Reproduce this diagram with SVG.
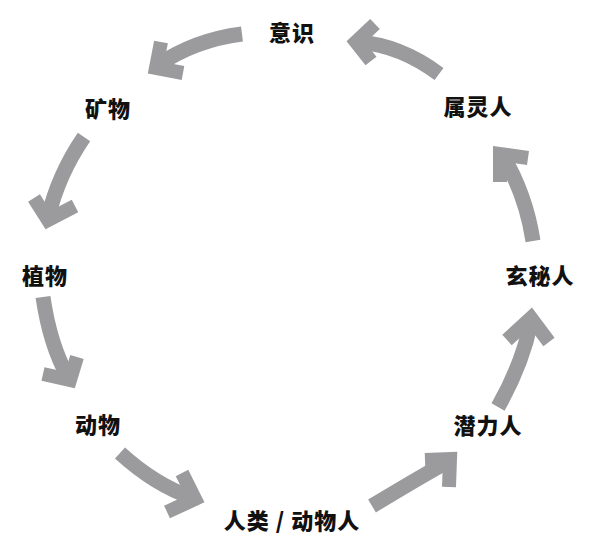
<svg xmlns="http://www.w3.org/2000/svg" width="598" height="541" viewBox="0 0 598 541">
<style>
.shaft{fill:none;stroke:#9b9b9e;stroke-width:15;stroke-linecap:butt}
.head{fill:none;stroke:#9b9b9e;stroke-width:14;stroke-linecap:butt;stroke-linejoin:miter;stroke-miterlimit:10}
.lbl{font-family:"Noto Sans CJK SC","Noto Sans",sans-serif;font-weight:900;font-size:22px;fill:#111;text-anchor:middle;dominant-baseline:central;letter-spacing:1px}
</style>
<rect width="598" height="541" fill="#fff"/>
<g id="connectors">
  <g id="a1"><path class="shaft" d="M242,34 Q195,40 158,65"/><polyline class="head" points="161,42 156,68 183,73"/></g>
  <g id="a2"><path class="shaft" d="M439,74 Q400,45 358,42"/><polyline class="head" points="375,24 356,42 371,61"/></g>
  <g id="a3"><path class="shaft" d="M84,137 Q58,175 48,218"/><polyline class="head" points="34,198 48,220 75,206"/></g>
  <g id="a4"><path class="shaft" d="M43,297 Q50,345 68,377"/><polyline class="head" points="43,374 70,380 77,357"/></g>
  <g id="a5"><path class="shaft" d="M120,453 Q155,485 193,498"/><polyline class="head" points="182,473 195,499 167,512"/></g>
  <g id="a6"><path class="shaft" d="M372,506 Q415,480 447,462"/><polyline class="head" points="425,460 450,459 449,487"/></g>
  <g id="a7"><path class="shaft" d="M498,407 Q522,365 531,322"/><polyline class="head" points="507,340 531,318 549,342"/></g>
  <g id="a8"><path class="shaft" d="M533,241 Q526,195 503,156"/><polyline class="head" points="500,182 500,154 528,158"/></g>
</g>
<g id="n-yishi"><text class="lbl" x="292" y="31">意识</text></g>
<g id="n-kuangwu"><text class="lbl" x="108" y="107">矿物</text></g>
<g id="n-zhiwu"><text class="lbl" x="45" y="274">植物</text></g>
<g id="n-dongwu"><text class="lbl" x="98" y="423">动物</text></g>
<g id="n-renlei"><text class="lbl" x="292" y="519" xml:space="preserve">人类 / 动物人</text></g>
<g id="n-qianli"><text class="lbl" x="488" y="424">潜力人</text></g>
<g id="n-xuanmi"><text class="lbl" x="540" y="274">玄秘人</text></g>
<g id="n-shuling"><text class="lbl" x="478" y="105">属灵人</text></g>
</svg>
